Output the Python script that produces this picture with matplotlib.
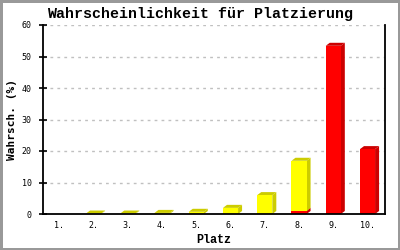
import numpy as np
import matplotlib
matplotlib.use("Agg")
import matplotlib.pyplot as plt
from matplotlib.patches import Polygon, Rectangle

# Platzierung 1..10, Wahrscheinlichkeit in %
places = np.arange(1, 11)
labels = ["1.", "2.", "3.", "4.", "5.", "6.", "7.", "8.", "9.", "10."]
red_vals = [0, 0, 0, 0, 0, 0, 0, 0.95, 53.4, 20.6]
yellow_vals = [0, 0.15, 0.15, 0.35, 0.7, 1.95, 6.0, 15.95, 0, 0]

fig = plt.figure(figsize=(4, 2.5), dpi=100)
fig.patch.set_edgecolor("#999999")
fig.patch.set_linewidth(2.5)
ax = fig.add_axes([0.1075, 0.144, 0.855, 0.756])
ax.set_xlim(0.525, 10.51)
ax.set_ylim(0, 60)

w = 0.44
# depth of the pseudo-3D bars: 4 px right, 3 px up, converted to data units
p0 = ax.transData.inverted().transform((0, 0))
p1 = ax.transData.inverted().transform((4, 3))
dx, dy = p1 - p0

bottom = np.zeros(len(places))
for vals, front, side in [(red_vals, "#ff0000", "#cc0000"),
                          (yellow_vals, "#ffff00", "#cccc00")]:
    for x, b, v in zip(places, bottom, vals):
        if v <= 0:
            continue
        x0, x1, top = x - w / 2, x + w / 2, b + v
        ax.add_patch(Polygon([(x0, top), (x1, top), (x1 + dx, top + dy), (x0 + dx, top + dy)],
                             closed=True, color=side, lw=0, zorder=3))
        ax.add_patch(Polygon([(x1, b), (x1 + dx, b + dy), (x1 + dx, top + dy), (x1, top)],
                             closed=True, color=side, lw=0, zorder=3))
        ax.add_patch(Rectangle((x0, b), w, v, color=front, lw=0, zorder=4))
    bottom = bottom + np.array(vals)

ax.set_yticks(range(0, 61, 10))
ax.set_xticks(places)
ax.set_xticklabels(labels)

for y in range(10, 61, 10):
    ax.axhline(y, color="#c0c0c0", lw=1, ls=(0, (2, 3)), zorder=1)

for s in ["left", "bottom", "right"]:
    ax.spines[s].set_linewidth(1.3)
    ax.spines[s].set_zorder(5)
ax.spines["top"].set_visible(False)

ax.tick_params(axis="y", direction="inout", length=6, width=1.2, pad=5,
               labelsize=6)
ax.tick_params(axis="x", length=0, pad=5, labelsize=6)
for t in ax.get_xticklabels() + ax.get_yticklabels():
    t.set_family("DejaVu Sans Mono")

ax.set_xlabel("Platz", fontsize=8.5, fontweight="bold", family="Liberation Mono",
              labelpad=3)
ax.set_ylabel("Wahrsch. (%)", fontsize=8, fontweight="bold", family="DejaVu Sans Mono",
              va="center")
ax.yaxis.set_label_coords(-0.09, 0.5)
fig.text(0.5, 0.944, "Wahrscheinlichkeit für Platzierung", ha="center", va="center",
         fontsize=10.8, fontweight="bold", family="Liberation Mono")

fig.savefig("out.png", dpi=100, edgecolor=fig.get_edgecolor())
